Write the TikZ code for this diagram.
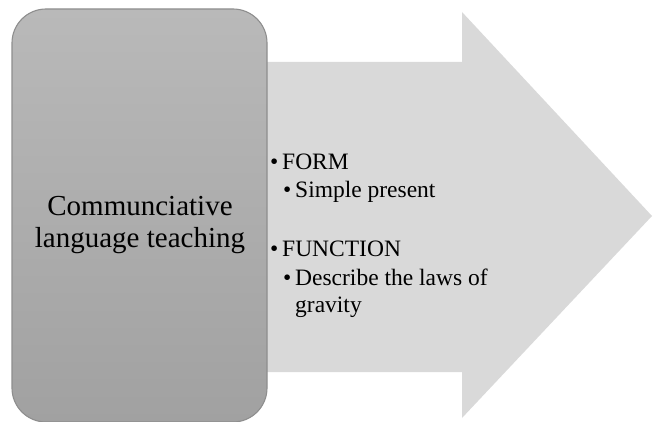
\documentclass[tikz,border=0pt]{standalone}
\usepackage{fontspec}
\setmainfont{Liberation Serif}
\usepackage{xcolor}
\usepackage{tikz}
\usetikzlibrary{calc}
\definecolor{boxtop}{HTML}{B9B9B9}
\definecolor{boxbot}{HTML}{A1A1A1}
\definecolor{boxline}{HTML}{8E8E8E}
\definecolor{arrowfill}{HTML}{D9D9D9}
\newcommand{\itm}{\makebox[12pt][l]{\textbullet}}
\tikzset{
  bigarrow/.style={fill=arrowfill},
  clt/.style={draw=boxline, line width=1.1pt, top color=boxtop, bottom color=boxbot, rounded corners=34pt},
  labm/.style={font=\fontsize{29}{32}\selectfont, align=center, inner sep=0pt},
  item/.style={font=\fontsize{23.5}{27.5}\selectfont, align=left, inner sep=0pt, anchor=base west}
}
\begin{document}
\begin{tikzpicture}[x=1pt,y=1pt]
  \useasboundingbox (0,0) rectangle (654,421);

  % arrow behind the box
  \coordinate (S1) at (200,359);
  \coordinate (S2) at (462,359);
  \coordinate (H1) at (462,409);
  \coordinate (T) at (652,205);
  \coordinate (H2) at (462,3);
  \coordinate (S3) at (462,49);
  \coordinate (S4) at (200,49);
  \fill[bigarrow] (S1)--(S2)--(H1)--(T)--(H2)--(S3)--(S4)--cycle;

  % left box
  \draw[clt] (12,-1) rectangle (267,412);
  \node[labm] (clt) at (140,196) {Communciative\\language teaching};

  % bullet list
  \node[item] (form) at (270,251) {\itm FORM};
  \node[item] (simple) at (283,223) {\itm Simple present};
  \node[item] (func) at (270,164) {\itm FUNCTION};
  \node[item] (laws) at (283,108) {\itm Describe the laws of\\\hspace*{12pt}gravity};
\end{tikzpicture}
\end{document}
